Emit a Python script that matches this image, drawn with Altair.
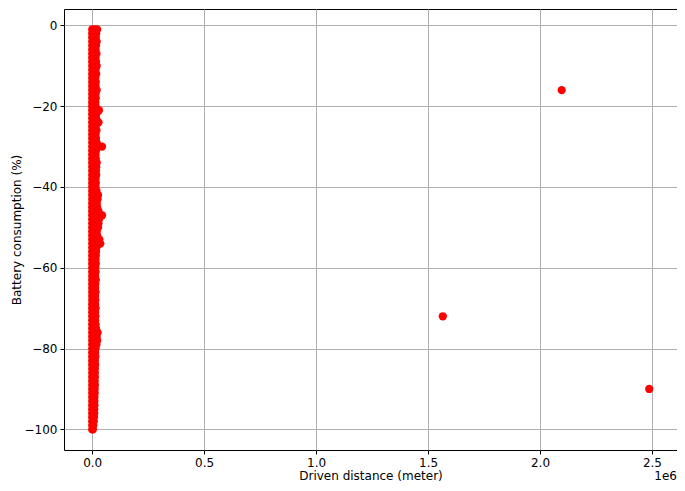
import altair as alt
import pandas as pd

# Dense column of trips near zero distance: battery consumption (%) rows
col_y = [-1, -2, -3, -4, -5, -6, -7, -8, -9, -10,
         -11, -12, -13, -14, -15, -16, -17, -18, -19, -20,
         -21, -22, -23, -24, -25, -26, -27, -28, -29, -30,
         -31, -32, -33, -34, -35, -36, -37, -38, -39, -40,
         -41, -42, -43, -44, -45, -46, -47, -48, -49, -50,
         -51, -52, -53, -54, -55, -56, -57, -58, -59, -60,
         -61, -62, -63, -64, -65, -66, -67, -68, -69, -70,
         -71, -72, -73, -74, -75, -76, -77, -78, -79, -80,
         -81, -82, -83, -84, -85, -86, -87, -88, -89, -90,
         -91, -92, -93, -94, -95, -96, -97, -98, -99, -100]
# Longest driven distance (m) in each row of the column
col_x_max = [22000, 18000, 16000, 20000, 17000, 15000, 19000, 15000, 17000, 20000,
             15000, 18000, 14000, 16000, 15000, 20000, 15000, 16000, 14000, 15000,
             30000, 18000, 17000, 28000, 16000, 19000, 15000, 17000, 20000, 44000,
             17000, 15000, 16000, 20000, 18000, 17000, 18000, 15000, 16000, 15000,
             19000, 26000, 24000, 20000, 22000, 28000, 44000, 30000, 28000, 26000,
             20000, 22000, 32000, 36000, 19000, 17000, 16000, 15000, 16000, 14000,
             15000, 13000, 16000, 14000, 13000, 15000, 13000, 14000, 13000, 15000,
             13000, 14000, 13000, 15000, 17000, 24000, 20000, 22000, 19000, 15000,
             13000, 14000, 12000, 13000, 12000, 12000, 12000, 11000, 12000, 11000,
             11000, 10000, 10000, 10000, 9000, 9000, 8000, 7000, 5000, 3000]
# Shortest driven distance (m) in each row
col_x_min = [0] * len(col_y)
# Intermediate trips inside the wider rows
mid_y = [-1, -21, -24, -30, -30, -42, -46, -47, -47, -48, -49, -50, -53, -54, -54, -76, -78]
mid_x = [10000, 14000, 13000, 14000, 28000, 12000, 13000, 14000, 28000, 14000, 13000, 12000, 15000, 12000, 24000, 11000, 10000]
# Long-distance outliers
out_x = [1566000, 2097000, 2488000]
out_y = [-72, -16, -90]

xs = col_x_min + col_x_max + mid_x + out_x
ys = col_y + col_y + mid_y + out_y
df = pd.DataFrame({"distance": xs, "battery": ys})

W, H = 613, 441

points = alt.Chart(df).mark_circle(size=68, color="#ff0000", opacity=1).encode(
    x=alt.X("distance:Q",
            scale=alt.Scale(domain=[-126000, 2612000], nice=False, zero=False),
            axis=alt.Axis(values=[0, 500000, 1000000, 1500000, 2000000, 2500000],
                          labelExpr="format(datum.value / 1000000, '.1f')",
                          title="Driven distance (meter)")),
    y=alt.Y("battery:Q",
            scale=alt.Scale(domain=[-105.1, 4.06], nice=False, zero=False),
            axis=alt.Axis(values=[0, -20, -40, -60, -80, -100],
                          labelExpr="replace(datum.label, '-', '\u2212')",
                          title="Battery consumption (%)")),
)

offset_label = alt.Chart(pd.DataFrame({"t": ["1e6"]})).mark_text(
    align="right", baseline="middle", fontSize=12, font="DejaVu Sans", color="black"
).encode(text="t:N", x=alt.value(W), y=alt.value(H + 26))

chart = alt.layer(points, offset_label).properties(
    width=W, height=H,
    autosize=alt.AutoSizeParams(type="none"),
    padding={"left": 56, "top": 1, "right": 0, "bottom": 33},
).configure_view(
    stroke="black", strokeWidth=1
).configure_axis(
    zindex=1,
    grid=True, gridColor="#b0b0b0", gridWidth=1,
    domain=False,
    tickColor="black", tickSize=4, tickWidth=1,
    labelFont="DejaVu Sans", labelFontSize=12, labelColor="black", labelPadding=3,
    titleFont="DejaVu Sans", titleFontSize=12, titleFontWeight="normal", titleColor="black",
).configure_axisY(
    titlePadding=1
).configure_axisX(
    titlePadding=2
)

chart.save("out.html", embed_options={"renderer": "svg", "actions": False})
